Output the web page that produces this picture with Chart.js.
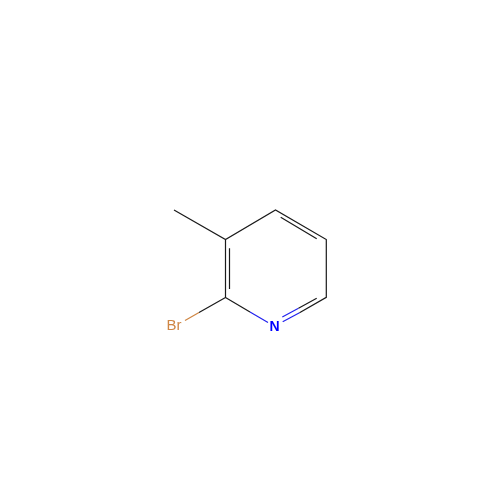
<!DOCTYPE html>
<html>
<head>
<meta charset="utf-8">
<style>
  html, body { margin: 0; padding: 0; background: #fff; }
  #chart { display: block; }
</style>
<script src="https://cdn.jsdelivr.net/npm/chart.js@4"></script>
</head>
<body>
<canvas id="chart" width="500" height="500"></canvas>
<script>
// bond segments, null splits one stroke from the next
const blackX = [174, 225.5, 275.5, 326.3, 326.3, 299.5, null, 225.5, 225.5, null, 229.5, 229.5, null, 280.7, 316.7, null, 225.5, 199, null, 225.5, 250, null, 298.5, 316.7];
const blackY = [210, 239.5, 210, 239.5, 297.3, 312.7, null, 239.5, 297.5, null, 248.3, 289, null, 217.3, 238.7, null, 297.5, 312.5, null, 297.5, 312, null, 308.3, 298.3];
const blueX = [250, 268, null, 299.5, 282.7, null, 298.5, 282.3];
const blueY = [312, 322.5, null, 312.7, 321.7, null, 308.3, 317];
const orangeX = [199, 185];
const orangeY = [312.5, 320.5];

const labels = ['Br', 'N'];
const labelX = [174, 274.5];
const labelY = [326, 327];
const labelFonts = ['15px "Liberation Sans"', 'bold 14px "Liberation Sans"'];
const labelColors = ['#cf8644', '#0000ff'];

const toPoints = (xs, ys) => xs.map((x, i) => ({ x: x, y: ys[i] }));

const bond = (xs, ys, color) => ({
  data: toPoints(xs, ys),
  borderColor: color,
  borderWidth: 1.2,
  pointRadius: 0,
  showLine: true,
  spanGaps: false,
  tension: 0
});

const atomLabels = {
  id: 'atomLabels',
  afterDatasetsDraw(chart) {
    const { ctx, scales } = chart;
    ctx.save();
    ctx.textAlign = 'center';
    ctx.textBaseline = 'middle';
    labels.forEach((t, i) => {
      ctx.font = labelFonts[i];
      ctx.fillStyle = labelColors[i];
      ctx.fillText(t, scales.x.getPixelForValue(labelX[i]), scales.y.getPixelForValue(labelY[i]));
    });
    ctx.restore();
  }
};

new Chart(document.getElementById('chart').getContext('2d'), {
  type: 'scatter',
  data: {
    datasets: [
      bond(blackX, blackY, '#1a1a1a'),
      bond(blueX, blueY, '#2222ee'),
      bond(orangeX, orangeY, '#cf8644')
    ]
  },
  options: {
    responsive: false,
    animation: false,
    layout: { padding: 0 },
    plugins: { legend: { display: false }, tooltip: { enabled: false } },
    scales: {
      x: { display: false, min: 0, max: 500 },
      y: { display: false, min: 0, max: 500, reverse: true }
    }
  },
  plugins: [atomLabels]
});
</script>
</body>
</html>
